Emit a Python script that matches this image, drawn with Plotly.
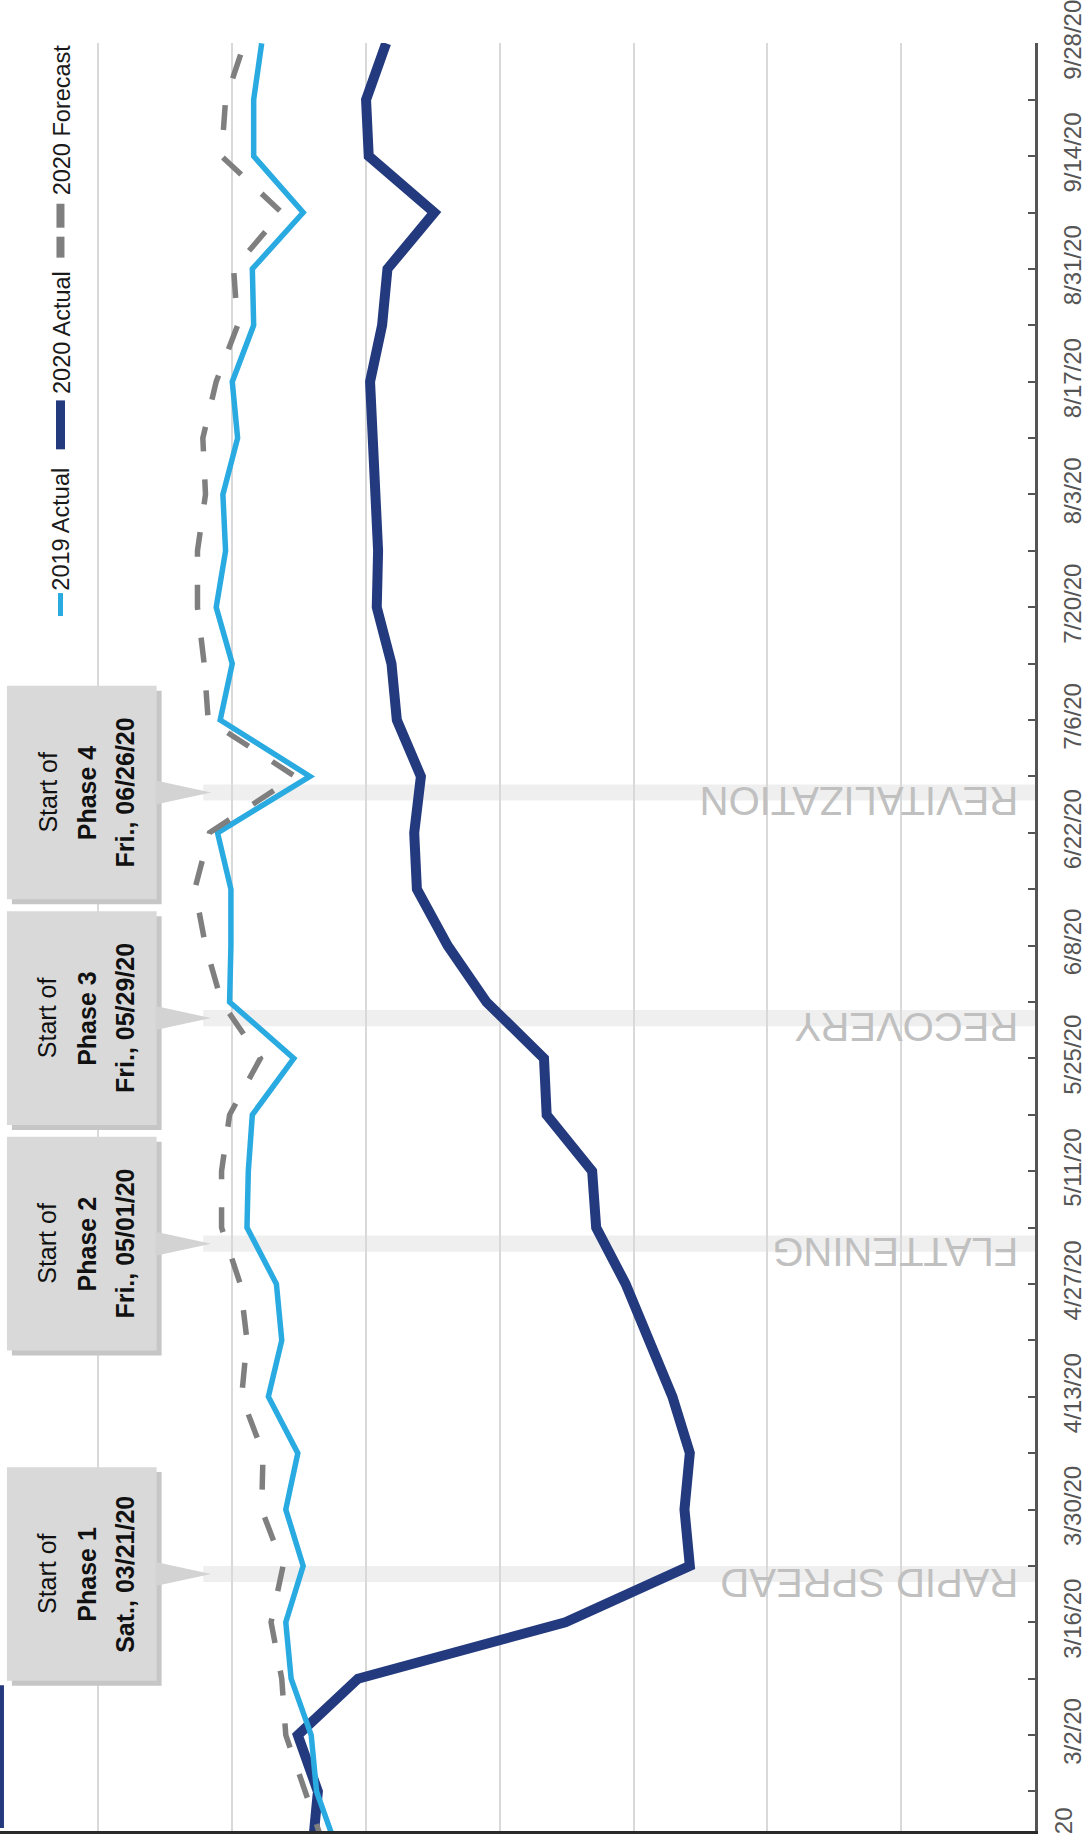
import pandas as pd
import plotly.graph_objects as go

# ---------------------------------------------------------------------------
# Weekly data (week starting Monday), values on an index scale
# ---------------------------------------------------------------------------
week_start = [
    "2020-02-17", "2020-02-24", "2020-03-02", "2020-03-09", "2020-03-16",
    "2020-03-23", "2020-03-30", "2020-04-06", "2020-04-13", "2020-04-20",
    "2020-04-27", "2020-05-04", "2020-05-11", "2020-05-18", "2020-05-25",
    "2020-06-01", "2020-06-08", "2020-06-15", "2020-06-22", "2020-06-29",
    "2020-07-06", "2020-07-13", "2020-07-20", "2020-07-27", "2020-08-03",
    "2020-08-10", "2020-08-17", "2020-08-24", "2020-08-31", "2020-09-07",
    "2020-09-14", "2020-09-21", "2020-09-28",
]

tick_labels = [
    "2/17/20", "", "3/2/20", "", "3/16/20", "", "3/30/20", "", "4/13/20", "",
    "4/27/20", "", "5/11/20", "", "5/25/20", "", "6/8/20", "", "6/22/20", "",
    "7/6/20", "", "7/20/20", "", "8/3/20", "", "8/17/20", "", "8/31/20", "",
    "9/14/20", "", "9/28/20",
]

actual_2019 = [
    52.2, 53.7, 54.1, 55.6, 56.0, 54.7, 56.0, 55.1, 57.3, 56.3,
    56.7, 58.9, 58.8, 58.5, 55.4, 60.2, 60.1, 60.1, 61.1, 54.2,
    60.9, 60.0, 61.2, 60.5, 60.7, 59.6, 60.0, 58.4, 58.5, 54.7,
    58.4, 58.4, 57.8,
]

actual_2020 = [
    54.0, 53.6, 55.1, 50.6, 35.1, 25.8, 26.2, 25.8, 27.1, 28.8,
    30.6, 32.8, 33.1, 36.5, 36.7, 41.0, 43.9, 46.2, 46.4, 45.9,
    47.7, 48.1, 49.2, 49.1, 49.3, 49.4, 49.7, 48.8, 48.4, 44.9,
    49.8, 50.0, 48.5,
]

forecast_2020 = [
    53.1, 54.5, 56.0, 56.3, 57.1, 56.2, 57.8, 57.7, 59.3, 58.9,
    59.4, 60.8, 60.8, 60.2, 57.9, 60.8, 62.0, 62.8, 61.7, 55.3,
    61.8, 62.1, 62.6, 62.6, 62.0, 62.2, 61.2, 59.6, 59.9, 56.3,
    60.8, 60.5, 59.1,
]

phase_names = ["RAPID SPREAD", "FLATTENING", "RECOVERY", "REVITALIZATION"]
phase_numbers = [1, 2, 3, 4]
phase_weekdays = ["Sat.", "Fri.", "Fri.", "Fri."]
phase_dates = ["2020-03-21", "2020-05-01", "2020-05-29", "2020-06-26"]

series_names = ["2019 Actual", "2020 Actual", "2020 Forecast"]
series_colors = ["#29abe2", "#243a7e", "#7f7f7f"]

# ---------------------------------------------------------------------------
# Canvas geometry
# ---------------------------------------------------------------------------
FIG_W, FIG_H = 1086, 1834
M_L, M_R, M_T, M_B = 0, 42, 40, 3
PLOT_W = FIG_W - M_L - M_R
PLOT_H = FIG_H - M_T - M_B

Y_TOP = pd.Timestamp("2020-09-28 01:00")
Y_BOTTOM = Y_TOP - pd.Timedelta(days=221.95)
X_RANGE = [77.36, 0]          # value axis runs right-to-left

FONT = "Liberation Sans, Arial, sans-serif"


def px_x(px):
    return (px - M_L) / PLOT_W


def px_y(py):
    return (FIG_H - M_B - py) / PLOT_H


def date_y(d):
    return (pd.Timestamp(d) - Y_BOTTOM) / (Y_TOP - Y_BOTTOM)


DAY = pd.Timedelta(days=1)
PX_PER_DAY = PLOT_H / 221.95

fig = go.Figure()

# 2020 actual underneath, 2019 actual and forecast on top
fig.add_trace(go.Scatter(
    x=actual_2020, y=week_start, mode="lines", name=series_names[1],
    line=dict(color=series_colors[1], width=10), showlegend=False,
))
fig.add_trace(go.Scatter(
    x=actual_2019, y=week_start, mode="lines", name=series_names[0],
    line=dict(color=series_colors[0], width=5.5), showlegend=False,
))
fig.add_trace(go.Scatter(
    x=forecast_2020, y=week_start, mode="lines", name=series_names[2],
    line=dict(color=series_colors[2], width=5.5, dash="25px,28px"),
    showlegend=False,
))

shapes = []
annotations = []

# Phase bands, callout boxes and phase captions
box_half = pd.Timedelta(days=107 / PX_PER_DAY)
shadow = pd.Timedelta(days=5 / PX_PER_DAY)
pointer_half = 12 / PLOT_H
callout_line_x = [47.5, 87.5, 126]
for name, num, wd, d in zip(phase_names, phase_numbers, phase_weekdays, phase_dates):
    start = pd.Timestamp(d)
    mid = start + DAY
    shapes.append(dict(
        type="rect", xref="paper", yref="y", layer="below",
        x0=px_x(205), x1=1, y0=start, y1=start + 2 * DAY,
        fillcolor="#efefef", line=dict(width=0),
    ))
    # drop shadow then box
    shapes.append(dict(
        type="rect", xref="paper", yref="y", layer="above",
        x0=px_x(12), x1=px_x(163), y0=mid - box_half - shadow, y1=mid + box_half - shadow,
        fillcolor="#c6c6c6", line=dict(width=0),
    ))
    shapes.append(dict(
        type="rect", xref="paper", yref="y", layer="above",
        x0=px_x(7), x1=px_x(158), y0=mid - box_half, y1=mid + box_half,
        fillcolor="#d9d9d9", line=dict(width=0),
    ))
    ym = date_y(mid)
    shapes.append(dict(
        type="path", xref="paper", yref="paper", layer="above",
        path=f"M {px_x(157)} {ym - pointer_half} L {px_x(213)} {ym} "
             f"L {px_x(157)} {ym + pointer_half} Z",
        fillcolor="#d3d3d3", line=dict(width=0),
    ))
    label_date = start.strftime("%m/%d/%y")
    lines = ["Start of", f"<b>Phase {num}</b>", f"<b>{wd}, {label_date}</b>"]
    for lx, txt in zip(callout_line_x, lines):
        annotations.append(dict(
            xref="paper", yref="y", x=px_x(lx), y=mid, textangle=-90,
            text=txt, showarrow=False, xanchor="center", yanchor="middle",
            font=dict(family=FONT, size=25, color="#111111"),
        ))
    annotations.append(dict(
        xref="paper", yref="y", x=px_x(1029), y=mid, yshift=-9,
        text=name, textangle=180, showarrow=False,
        xanchor="right", yanchor="middle",
        font=dict(family=FONT, size=40, color="#c0c0c0"),
    ))

# Date label that sits just below the visible window
annotations.append(dict(
    xref="paper", yref="paper", x=px_x(1073), y=date_y(week_start[0]),
    textangle=-90, text=tick_labels[0], showarrow=False,
    xanchor="center", yanchor="middle",
    font=dict(family=FONT, size=24, color="#555555"),
))

# Rotated legend
legend_text_y = [527, 330, 117]
legend_sym = [[(591, 614)], [(398, 447)], [(201, 225), (234, 255)]]
legend_w = [5, 9, 8]
for name, color, ty, segs, w in zip(series_names, series_colors, legend_text_y,
                                    legend_sym, legend_w):
    annotations.append(dict(
        xref="paper", yref="paper", x=px_x(62), y=px_y(ty), textangle=-90,
        text=name, showarrow=False, xanchor="center", yanchor="middle",
        font=dict(family=FONT, size=23.5, color="#1a1a1a"),
    ))
    for a, b in segs:
        shapes.append(dict(
            type="line", xref="paper", yref="paper", layer="above",
            x0=px_x(61), x1=px_x(61), y0=px_y(a), y1=px_y(b),
            line=dict(color=color, width=w),
        ))

# Edge mark at the lower left
shapes.append(dict(
    type="rect", xref="paper", yref="paper", layer="above",
    x0=px_x(0), x1=px_x(4), y0=px_y(1828), y1=px_y(1685),
    fillcolor="#243a7e", line=dict(width=0),
))

fig.update_layout(
    width=FIG_W, height=FIG_H,
    margin=dict(l=M_L, r=M_R, t=M_T, b=M_B),
    paper_bgcolor="white", plot_bgcolor="white",
    showlegend=False,
    xaxis=dict(
        range=X_RANGE, tick0=0, dtick=10, showticklabels=False, ticks="",
        showgrid=True, gridcolor="#d9d9d9", gridwidth=2, zeroline=False,
        showline=True, linecolor="#2a2a2a", linewidth=3,
    ),
    yaxis=dict(
        type="date", range=[Y_BOTTOM, Y_TOP], side="right",
        showline=True, linecolor="#555555", linewidth=2.5,
        ticks="inside", ticklen=7, tickwidth=2, tickcolor="#555555",
        tickmode="array", tickvals=week_start, ticktext=tick_labels,
        tickangle=-90, ticklabelstandoff=14, ticklabeloverflow="allow",
        tickfont=dict(family=FONT, size=24, color="#555555"),
        showgrid=False, zeroline=False,
    ),
    shapes=shapes,
    annotations=annotations,
)

fig.write_html("out.html")
